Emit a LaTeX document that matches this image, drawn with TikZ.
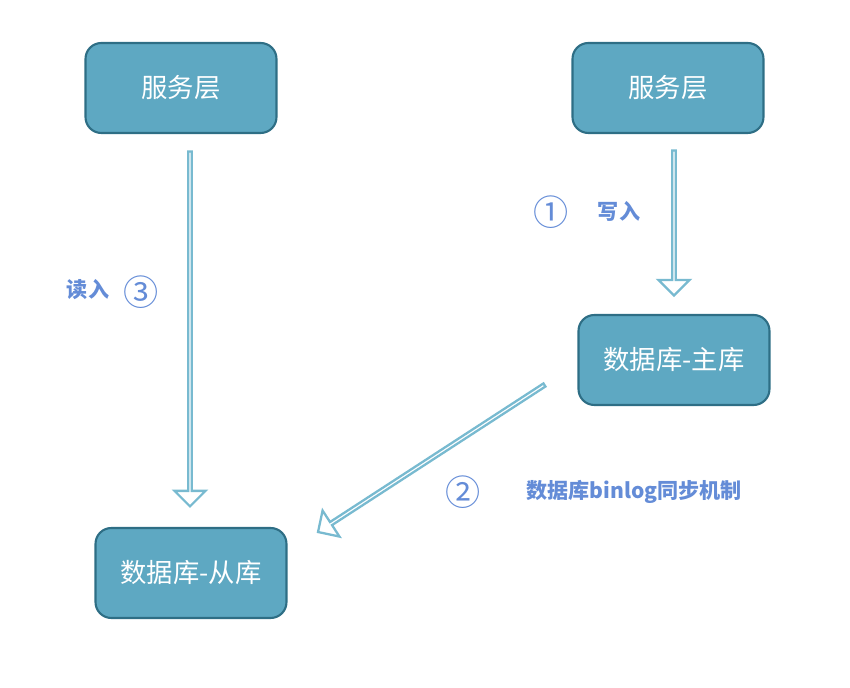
\documentclass[tikz,border=0pt]{standalone}
\usepackage{fontspec}
\newfontfamily\cjk{Noto Sans CJK SC}
\usetikzlibrary{shapes.arrows}
\definecolor{boxfill}{RGB}{94,168,194}
\definecolor{boxdraw}{RGB}{46,110,133}
\definecolor{arr}{RGB}{120,186,208}
\definecolor{lbl}{RGB}{100,140,215}
\begin{document}
\begin{tikzpicture}[x=0.02cm,y=-0.02cm,
  box/.style={draw=boxdraw,line width=1.2pt,fill=boxfill,rounded corners=9pt,minimum width=3.82cm,minimum height=1.8cm,text=white,font=\cjk\fontsize{15}{15}\selectfont},
  arrow/.style={single arrow,draw=arr,line width=1.3pt,fill=white,minimum width=0.62cm,single arrow head extend=0.17cm,single arrow tip angle=90,inner sep=0pt},
  lab/.style={text=lbl,font=\cjk\bfseries\fontsize{12}{12}\selectfont},
  num/.style={text=lbl,font=\cjk\fontsize{20}{20}\selectfont}]
\useasboundingbox (0,0) rectangle (850,688);
\node[box] (s1) at (181,88) {服务层};
\node[box] (s2) at (668,88) {服务层};
\node[box] (m) at (674,360) {数据库-主库};
\node[box] (sl) at (191,573) {数据库-从库};
\node[arrow,minimum height=7.1cm,rotate=-90] (a1) at (190,328) {};
\node[arrow,minimum height=2.9cm,rotate=-90] (a2) at (674,222) {};
\node[arrow,minimum height=5.4cm,rotate=213] (a3) at (432,458) {};
\node[lab] (t3) at (88,290) {读入};
\node[num] (n3) at (141,292) {③};
\node[num] (n1) at (551,212) {①};
\node[lab] (t1) at (619,211) {写入};
\node[num] (n2) at (463,492) {②};
\node[lab] (t2) at (634,492) {数据库binlog同步机制};
\end{tikzpicture}
\end{document}
